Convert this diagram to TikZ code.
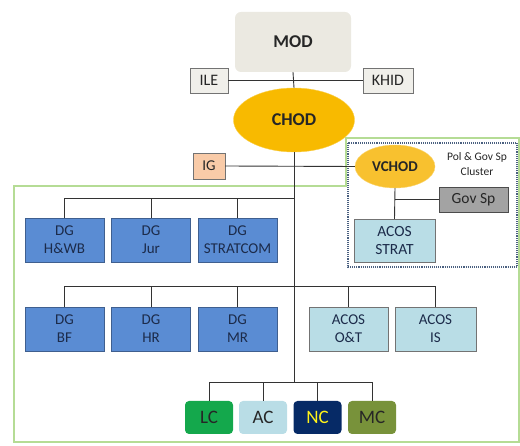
\documentclass[tikz,border=0pt]{standalone}
\usepackage{fontspec}
\setmainfont{Carlito}
\usetikzlibrary{shapes.geometric}
\definecolor{modfill}{HTML}{EBE9E1}
\definecolor{smallfill}{HTML}{F0EFEA}
\definecolor{chodfill}{HTML}{F8BA00}
\definecolor{vchodfill}{HTML}{F8C12F}
\definecolor{igfill}{HTML}{F9CBA8}
\definecolor{govfill}{HTML}{A3A3A3}
\definecolor{acosfill}{HTML}{B9DDE6}
\definecolor{dgfill}{HTML}{5A8CD3}
\definecolor{dgline}{HTML}{3F5F8F}
\definecolor{dgtext}{HTML}{1C2B4A}
\definecolor{lcfill}{HTML}{14A84C}
\definecolor{ncfill}{HTML}{062A66}
\definecolor{mcfill}{HTML}{78923A}
\definecolor{greenline}{HTML}{B5DC95}
\definecolor{clusterline}{HTML}{4A6080}
\definecolor{conn}{HTML}{333333}
\begin{document}
\begin{tikzpicture}[x=1pt,y=-1pt,
  every node/.style={inner sep=0pt,align=center,text=black!85},
  smallbox/.style={draw=black!55,fill=smallfill,minimum height=25pt,font=\fontsize{16}{18}\selectfont},
  dgbox/.style={draw=dgline,fill=dgfill,minimum width=79pt,minimum height=44pt,text=dgtext,font=\fontsize{15}{18}\selectfont},
  acosbox/.style={draw=black!55,fill=acosfill,minimum width=79pt,minimum height=44pt,text=dgtext,font=\fontsize{15}{18}\selectfont},
  cmdbox/.style={rounded corners=4pt,minimum width=48pt,minimum height=33pt,font=\fontsize{19}{22}\selectfont},
  connector/.style={draw=conn,line width=0.9pt}]
\useasboundingbox (0,0) rectangle (520,446);
% green outline
\draw[greenline,line width=1.6pt] (14,186) -- (346,186) -- (346,138) -- (519,138) -- (519,442) -- (14,442) -- cycle;
% cluster
\draw[clusterline,densely dotted,line width=1.1pt] (348,143) rectangle (517,267);
% nodes
\node[rounded corners=6pt,fill=modfill,minimum width=116pt,minimum height=60pt,font=\fontsize{18}{20}\selectfont\bfseries] (mod) at (293,42) {MOD};
\node[smallbox,minimum width=38pt] (ile) at (209,80.5) {ILE};
\node[smallbox,minimum width=50pt] (khid) at (388,80.5) {KHID};
\node[ellipse,draw=chodfill!70!white,fill=chodfill,minimum width=121pt,minimum height=64pt,font=\fontsize{18}{20}\selectfont\bfseries] (chod) at (294,120) {CHOD};
\node[smallbox,fill=igfill,minimum width=32pt,minimum height=26pt,font=\fontsize{15}{17}\selectfont] (ig) at (209,166) {IG};
\node[ellipse,draw=vchodfill!70!white,fill=vchodfill,minimum width=80pt,minimum height=43pt,font=\fontsize{15}{18}\selectfont\bfseries] (vchod) at (395,166.5) {VCHOD};
\node[font=\fontsize{11.5}{14.5}\selectfont] (pol) at (477,164) {Pol \& Gov Sp\\Cluster};
\node[draw=black!70,fill=govfill,minimum width=69pt,minimum height=25pt,font=\fontsize{15.5}{18}\selectfont] (gov) at (473.5,199.5) {Gov Sp};
\node[acosbox,minimum width=81pt,minimum height=43pt,font=\fontsize{15.5}{18.5}\selectfont] (strat) at (394.5,240.5) {ACOS\\STRAT};
% row 1
\node[dgbox] (hwb) at (64.5,240) {DG\\H\&WB};
\node[dgbox] (jur) at (151,240) {DG\\Jur};
\node[dgbox] (stratcom) at (237.5,240) {DG\\STRATCOM};
% row 2
\node[dgbox] (bf) at (64.5,329) {DG\\BF};
\node[dgbox] (hr) at (151,329) {DG\\HR};
\node[dgbox] (mr) at (237.5,329) {DG\\MR};
\node[acosbox] (ot) at (348.5,329) {ACOS\\O\&T};
\node[acosbox,minimum width=81pt] (is) at (435.5,329) {ACOS\\IS};
% commands
\node[cmdbox,fill=lcfill,text=black!85] (lc) at (209,417.5) {LC};
\node[cmdbox,fill=acosfill] (ac) at (263,417.5) {AC};
\node[cmdbox,fill=ncfill,text=yellow!90!white] (nc) at (317.5,417.5) {NC};
\node[cmdbox,fill=mcfill] (mc) at (372,417.5) {MC};
% bus coordinates
\coordinate (bus1) at (294,198);
\coordinate (bus2) at (294,286);
\coordinate (bus3) at (294,382);
% connectors
\path[connector] (mod.south) -- (chod.north);
\path[connector] (ile.east) -- (khid.west);
\path[connector] (ig.east) -- (vchod.west);
\path[connector] (chod.south) -- (bus3);
\path[connector] (hwb.north) |- (bus1);
\path[connector] (jur.north) -- (jur.north |- bus1);
\path[connector] (stratcom.north) -- (stratcom.north |- bus1);
\path[connector] (bf.north) |- (bus2);
\path[connector] (hr.north) -- (hr.north |- bus2);
\path[connector] (mr.north) -- (mr.north |- bus2);
\path[connector] (is.north) |- (bus2);
\path[connector] (ot.north) -- (ot.north |- bus2);
\path[connector] (lc.north) |- (bus3);
\path[connector] (mc.north) |- (bus3);
\path[connector] (ac.north) -- (ac.north |- bus3);
\path[connector] (nc.north) -- (nc.north |- bus3);
\path[connector] (vchod.south) -- (strat.north);
\path[connector] (vchod.south |- gov.west) -- (gov.west);
\end{tikzpicture}
\end{document}
